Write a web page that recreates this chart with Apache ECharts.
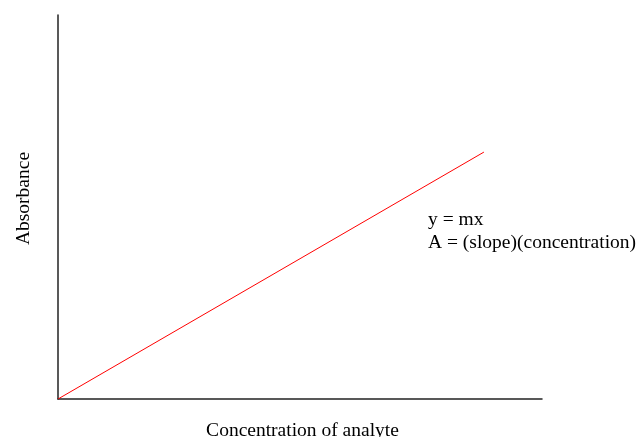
<!DOCTYPE html>
<html>
<head>
<meta charset="utf-8">
<script src="https://cdn.jsdelivr.net/npm/echarts@6/dist/echarts.min.js"></script>
<style>html,body{margin:0;padding:0;background:#fff}#c{width:637px;height:437px}</style>
</head>
<body>
<div id="c"></div>
<script>
var lineX = [0, 8.8];
var lineY = [0, 6.43];
var xTitle = 'Concentration of analyte';
var yTitle = 'Absorbance';
var noteLines = ['y = mx', 'A = (slope)(concentration)'];

var chart = echarts.init(document.getElementById('c'));
var font = '"Liberation Serif", "DejaVu Serif", serif';
chart.setOption({
  animation: false,
  grid: {left: 58, top: 15, right: 95, bottom: 38, outerBoundsMode: 'none', containLabel: false},
  xAxis: {
    type: 'value', min: 0, max: 10,
    name: xTitle, nameLocation: 'middle', nameGap: 22,
    nameTextStyle: {fontFamily: font, fontSize: 19.5, color: '#000', padding: [0, 0, 0, 5]},
    axisLine: {lineStyle: {color: '#222', width: 1.5}},
    axisTick: {show: false}, axisLabel: {show: false}, splitLine: {show: false}
  },
  yAxis: {
    type: 'value', min: 0, max: 10,
    axisLine: {show: true, lineStyle: {color: '#222', width: 1.5}},
    axisTick: {show: false}, axisLabel: {show: false}, splitLine: {show: false}
  },
  series: [{
    type: 'line',
    data: lineX.map(function (x, i) { return [x, lineY[i]]; }),
    showSymbol: false,
    lineStyle: {color: '#ff0000', width: 1}
  }],
  graphic: [{
    type: 'text', x: 24, y: 198.5, rotation: Math.PI / 2,
    style: {text: yTitle, font: '19.5px ' + font, fill: '#000', align: 'center', verticalAlign: 'middle'}
  }, {
    type: 'text', left: 428, top: 208,
    style: {text: noteLines.join('\n'), font: '19.5px ' + font, fill: '#000', lineHeight: 23}
  }]
});
</script>
</body>
</html>
